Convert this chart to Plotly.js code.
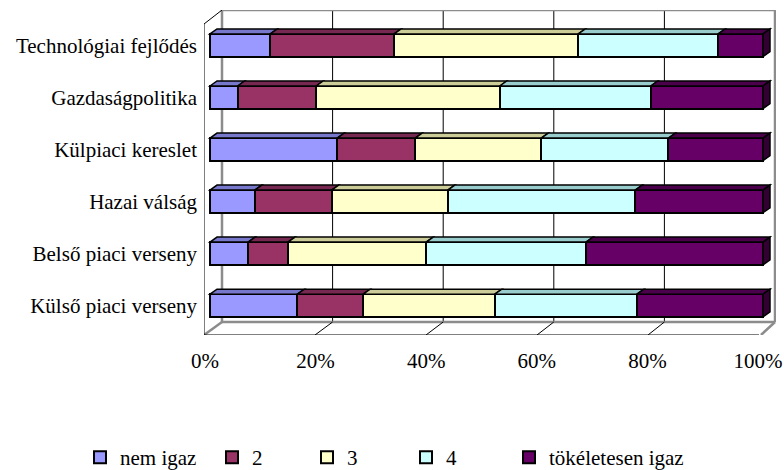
<!DOCTYPE html>
<html><head><meta charset="utf-8">
<script src="https://cdn.plot.ly/plotly-3.0.1.min.js"></script>
<style>html,body{margin:0;padding:0;background:#fff}</style>
</head><body><div id="chart" style="width:784px;height:470px"></div>
<script>
const categories = ['Külső piaci verseny','Belső piaci verseny','Hazai válság','Külpiaci kereslet','Gazdaságpolitika','Technológiai fejlődés'];
const seriesNames = ['nem igaz','2','3','4','tökéletesen igaz'];
const nemIgaz     = [15.8, 6.9, 8.1, 23.0, 5.0, 10.9];
const ertek2      = [11.9, 7.2, 13.9, 14.1, 14.2, 22.4];
const ertek3      = [23.8, 25.0, 21.0, 22.8, 33.2, 33.3];
const ertek4      = [25.7, 28.9, 33.9, 23.0, 27.3, 25.3];
const tokeletesen = [22.8, 32.0, 23.1, 17.1, 20.3, 8.1];
const tickVals = [0, 20, 40, 60, 80, 100];
const tickLabels = ['0%', '20%', '40%', '60%', '80%', '100%'];

const series = [nemIgaz, ertek2, ertek3, ertek4, tokeletesen];
const frontColors = ['#9999FF','#993366','#FFFFCC','#CCFFFF','#660066'];
const topColors = ['#7777CC','#772850','#CCCC99','#99CCCC','#4A004A'];
const sideColor = '#330033';
const legendWidths = [87, 50, 54, 58, 170];

// geometry (pixels)
const L = 204, R = 776, T = 10, B = 335;
const KX = 5.53, BAR0 = 210;      // bar plane
const KY = 52.04, YC0 = 305.5;    // category spacing, centre of first category
const FK = 5.55, F0 = 204;        // front plane (floor edge)
const X = px => (px - BAR0) / KX;
const Y = py => (YC0 - py) / KY;
const font = {family: 'Liberation Serif', size: 21, color: '#000'};

const idx = categories.map((c, i) => i);
const barW = 0.436;
const traces = series.map((vals, s) => ({
  type: 'bar', orientation: 'h', name: seriesNames[s],
  y: idx, x: vals, width: barW,
  marker: {color: frontColors[s], line: {color: '#000', width: 2}},
  legendwidth: legendWidths[s], hoverinfo: 'skip'
}));

const shapes = [];
const line = (x0, y0, x1, y1, color, width, layer) => shapes.push({
  type: 'line', xref: 'x', yref: 'y', x0: X(x0), y0: Y(y0), x1: X(x1), y1: Y(y1),
  line: {color: color, width: width}, layer: layer || 'below'
});
// back wall
const BK = v => 222 + v * KX;
const FR = v => F0 + v * FK;
tickVals.slice(1, -1).forEach(v => line(BK(v), T, BK(v), 322, '#000', 1));
line(BK(0), T, BK(0), 322, '#8c8c8c', 2.5);
line(BK(0), T, BK(100), T, '#8c8c8c', 2.5);
line(BK(100), T, BK(100), 322, '#8c8c8c', 2.5);
// floor
line(BK(0), 322, BK(100), 322, '#8c8c8c', 2.5);
line(BK(0), 322, F0, B, '#8c8c8c', 2.5);
line(BK(100), 322, FR(100) + 2, B, '#8c8c8c', 2.5);
tickVals.slice(1, -1).forEach(v => line(BK(v), 322, FR(v), B, '#000', 1));
line(F0, B, FR(100), B, '#000', 1);
tickVals.forEach(v => line(FR(v), B, FR(v), B + 7, '#000', 1));
// left wall
line(F0, 24, F0, B, '#000', 1);
line(F0, 24, BK(0), T, '#000', 1);
for (let k = 0; k <= 6; k++) line(F0 - 5, 24 + k * 52, F0, 24 + k * 52, '#000', 1);

// 3D top faces and end faces of bars
const dX = 7 / KX, dY = 5 / KY;
idx.forEach(i => {
  let cum = 0;
  const yt = i + barW / 2, yb = i - barW / 2;
  series.forEach((vals, s) => {
    const x0 = cum, x1 = cum + vals[i];
    cum = x1;
    shapes.push({type: 'path', xref: 'x', yref: 'y', layer: 'above',
      path: `M${x0},${yt} L${x0 + dX},${yt + dY} L${x1 + dX},${yt + dY} L${x1},${yt} Z`,
      fillcolor: topColors[s], line: {color: '#000', width: 1.5}});
  });
  shapes.push({type: 'path', xref: 'x', yref: 'y', layer: 'above',
    path: `M${cum},${yb} L${cum + dX},${yb + dY} L${cum + dX},${yt + dY} L${cum},${yt} Z`,
    fillcolor: sideColor, line: {color: '#000', width: 1.5}});
});

const layout = {
  width: 784, height: 470,
  margin: {l: L, r: 784 - R, t: T, b: 470 - B, pad: 0, autoexpand: false},
  paper_bgcolor: '#fff', plot_bgcolor: 'rgba(0,0,0,0)',
  barmode: 'stack',
  font: font,
  showlegend: true,
  xaxis: {range: [X(L), X(R)], tickvals: tickVals, ticktext: tickLabels, ticks: '', ticklen: 0,
    ticklabelshift: -5, ticklabelstandoff: 11,
    showgrid: false, zeroline: false, showline: false, tickfont: font, fixedrange: true},
  yaxis: {range: [Y(B), Y(T)], tickvals: idx, ticktext: categories, ticks: '', showgrid: false,
    zeroline: false, showline: false, tickfont: font, ticklabelstandoff: 6},
  legend: {orientation: 'h', x: (80 - L) / (R - L), xanchor: 'left', y: (B - 437) / (B - T), yanchor: 'top',
    font: font, traceorder: 'normal', itemwidth: 30, bgcolor: 'rgba(0,0,0,0)'},
  shapes: shapes
};
Plotly.newPlot('chart', traces, layout, {displayModeBar: false, staticPlot: true});
</script></body></html>
